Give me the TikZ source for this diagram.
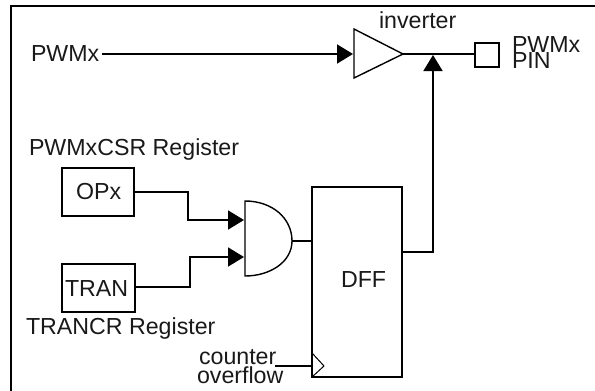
\documentclass[tikz,border=0pt]{standalone}
\usepackage{fontspec}
\setmainfont{Liberation Sans}
\usetikzlibrary{arrows.meta,calc}
\tikzset{
  wire/.style={line width=1.7pt,line join=miter},
  arrowwire/.style={wire,-{Triangle[length=16pt,width=19pt]}},
  blockbox/.style={draw,line width=1.7pt,minimum width=#1,inner sep=0pt,outer sep=0pt},
  lbl/.style={anchor=base west,inner sep=0pt,outer sep=0pt,font=\fontsize{23.2}{25}\selectfont,text=black!90},
}
\begin{document}
\begin{tikzpicture}[x=1pt,y=-1pt]
\useasboundingbox (0,0) rectangle (595,391);
% frame
\draw[line width=2pt] (11,391) -- (11,5.5) -- (595,5.5);
% blocks
\node[blockbox=72pt,minimum height=48pt] (opx) at (98,192) {};
\node[blockbox=73pt,minimum height=48pt] (tran) at (98.5,288) {};
\node[blockbox=90pt,minimum height=190pt] (dff) at (357,282) {};
\node[blockbox=24pt,minimum height=24pt] (pin) at (487,55) {};
% inverter
\coordinate (invtop) at (354,29);
\coordinate (invbot) at (354,78);
\coordinate (invout) at (403,54);
\coordinate (invin) at (353,54);
\draw[line width=1.4pt] (invtop) -- (invout) -- (invbot) -- cycle;
% AND gate
\coordinate (andtop) at (245,201);
\coordinate (andbot) at (245,276);
\coordinate (andout) at (292,241);
\coordinate (andina) at (244,220);
\coordinate (andinb) at (244,257);
\draw[line width=1.4pt] (andtop) .. controls (272,201) and (292,218) .. (andout)
  .. controls (292,262) and (270,276) .. (andbot) -- cycle;
% clock
\coordinate (clktop) at (312,353);
\coordinate (clktip) at (324,366);
\coordinate (clkbot) at (312,377);
\draw[line width=1pt] (clktop) -- (clktip) -- (clkbot);
% labels
\node[lbl] (lpwm) at (31,61) {PWMx};
\node[lbl] (linv) at (379,28) {inverter};
\node[lbl] (lpwmr) at (512,52) {PWMx};
\node[lbl] (lpin) at (512,68) {PIN};
\node[lbl] (lcsr) at (29,155) {PWMxCSR Register};
\node[lbl] (lopx) at (76,199) {OPx};
\node[lbl] (ltran) at (65,296) {TRAN};
\node[lbl] (lcr) at (26,334) {TRANCR Register};
\node[lbl] (lcnt) at (199,364) {counter};
\node[lbl] (lovf) at (197,383) {overflow};
\node[lbl] (ldff) at (341,287) {DFF};
% connectors
\coordinate (pwmstart) at (102,54);
\draw[arrowwire] (pwmstart) -- (invin);
\draw[wire] (invout) -- (invout -| pin.west);
\coordinate (dffq) at (401,252);
\coordinate (junc) at (433,55);
\draw[arrowwire] (dffq) -| (junc);
\coordinate (opxbend) at (188,191.7);
\draw[arrowwire] (opx.east |- opxbend) -- (opxbend) |- (andina);
\coordinate (tranbend) at (190,287);
\draw[arrowwire] (tran.east |- tranbend) -- (tranbend) |- (andinb);
\draw[wire] (andout) -- (dff.west |- andout);
\coordinate (cntend) at (275,366);
\draw[wire] (cntend) -- (dff.west |- cntend);
\end{tikzpicture}
\end{document}
